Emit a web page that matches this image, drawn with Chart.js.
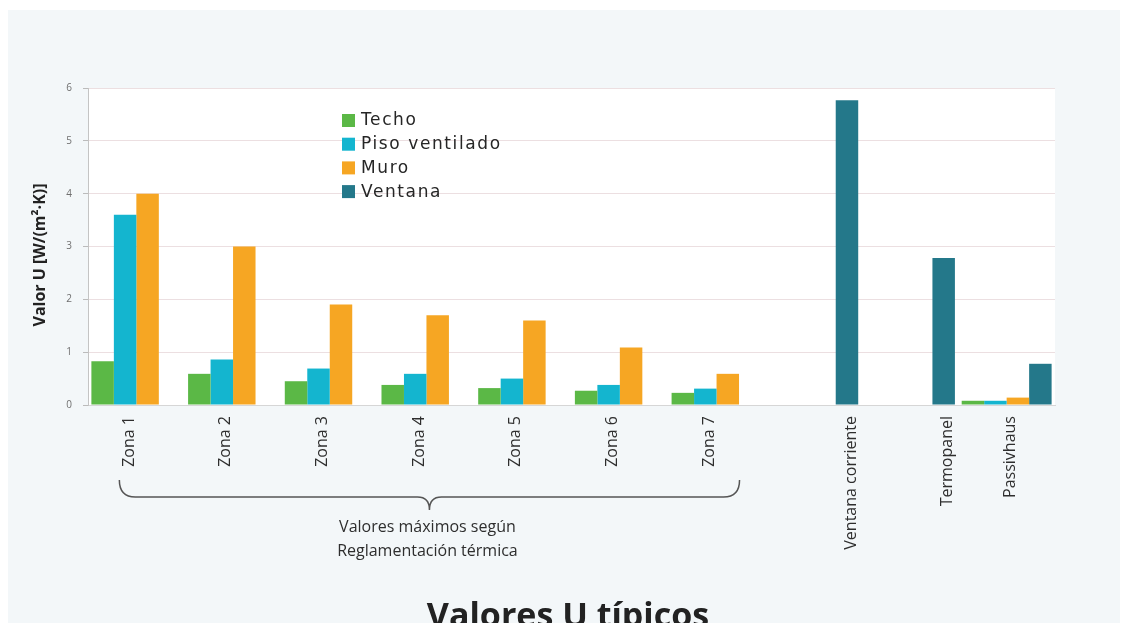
<!DOCTYPE html>
<html>
<head>
<title>Valores U típicos</title>
<script src="https://cdn.jsdelivr.net/npm/chart.js@4.4.0/dist/chart.umd.min.js"></script>
<style>
  body { margin: 0; background: #ffffff; }
  /* light panel behind the whole figure */
  #panel { position: absolute; left: 8px; top: 10px; width: 1112px; height: 613px; background: #f3f7f9; }
  #uChart { position: absolute; left: 0; top: 0; }
</style>
</head>
<body>
<div id="panel"></div>
<canvas id="uChart" width="1129" height="623"></canvas>
<script>
// data
var categories = ['Zona 1', 'Zona 2', 'Zona 3', 'Zona 4', 'Zona 5', 'Zona 6', 'Zona 7',
                  'Ventana corriente', 'Termopanel', 'Passivhaus'];
var techo         = [0.83, 0.59, 0.45, 0.38, 0.32, 0.27, 0.23, null, null, 0.08];
var pisoVentilado = [3.6, 0.86, 0.69, 0.59, 0.5, 0.38, 0.31, null, null, 0.08];
var muro          = [4.0, 3.0, 1.9, 1.7, 1.6, 1.09, 0.59, null, null, 0.14];
var ventana       = [null, null, null, null, null, null, null, 5.77, 2.78, 0.78];
var yTicks = [0, 1, 2, 3, 4, 5, 6];

var yTitle = 'Valor U [W/(m²·K)]';
var braceText = ['Valores máximos según', 'Reglamentación térmica'];
var chartTitle = 'Valores U típicos';

// extra drawing: white plot area, rotated category labels, brace, legend, titles
var refPlugin = {
  id: 'refPlugin',
  beforeDraw: function(chart) {
    var a = chart.chartArea, ctx = chart.ctx;
    ctx.save();
    ctx.fillStyle = '#ffffff';
    ctx.fillRect(a.left, a.top, a.right - a.left, a.bottom - a.top);
    ctx.restore();
  },
  afterDraw: function(chart) {
    var ctx = chart.ctx, x = chart.scales.x, a = chart.chartArea;
    ctx.save();

    // category labels, under the bars that are present
    ctx.font = '16px "Open Sans"';
    ctx.fillStyle = '#2e2e2e';
    ctx.textAlign = 'right';
    ctx.textBaseline = 'middle';
    categories.forEach(function(lab, i) {
      var xs = [];
      chart.data.datasets.forEach(function(ds, d) {
        if (ds.data[i] !== null) xs.push(chart.getDatasetMeta(d).data[i].x);
      });
      var cx = xs.reduce(function(s, v) { return s + v; }, 0) / xs.length + 4;
      ctx.save();
      ctx.translate(cx, a.bottom + 11);
      ctx.rotate(-Math.PI / 2);
      ctx.fillText(lab, 0, 0);
      ctx.restore();
    });

    // brace under the zones
    var L = x.getPixelForValue(0) - 17, R = x.getPixelForValue(6) + 23, M = (L + R) / 2;
    var y0 = 480, y1 = 497, y2 = 510;
    ctx.strokeStyle = '#555555';
    ctx.lineWidth = 1.5;
    ctx.beginPath();
    ctx.moveTo(L, y0);
    ctx.quadraticCurveTo(L, y1, L + 16, y1);
    ctx.lineTo(M - 12, y1);
    ctx.quadraticCurveTo(M, y1, M, y2);
    ctx.moveTo(R, y0);
    ctx.quadraticCurveTo(R, y1, R - 16, y1);
    ctx.lineTo(M + 12, y1);
    ctx.quadraticCurveTo(M, y1, M, y2);
    ctx.stroke();

    ctx.textAlign = 'center';
    ctx.fillText(braceText[0], M - 2, 527);
    ctx.fillText(braceText[1], M - 2, 551);

    // y axis title
    ctx.font = 'bold 16px "Open Sans"';
    ctx.fillStyle = '#222222';
    ctx.save();
    ctx.translate(40, 255);
    ctx.rotate(-Math.PI / 2);
    ctx.fillText(yTitle, 0, 0);
    ctx.restore();

    // bottom title (cut by the frame edge)
    ctx.font = 'bold 34px "Open Sans"';
    ctx.textBaseline = 'alphabetic';
    ctx.fillText(chartTitle, 568, 627);

    // legend inside the plot
    ctx.font = '17px "DejaVu Sans"';
    ctx.letterSpacing = '1.6px';
    ctx.textAlign = 'left';
    ctx.textBaseline = 'middle';
    chart.data.datasets.forEach(function(ds, d) {
      var ly = 120 + d * 23.7;
      ctx.fillStyle = ds.backgroundColor;
      ctx.fillRect(342, ly - 6, 13, 13);
      ctx.fillStyle = '#262626';
      ctx.fillText(ds.label, 361, ly + 1);
    });
    ctx.restore();
  }
};

var ctx = document.getElementById('uChart').getContext('2d');
var uChart = new Chart(ctx, {
  type: 'bar',
  data: {
    labels: categories,
    datasets: [
      { label: 'Techo', data: techo, backgroundColor: '#5bb846' },
      { label: 'Piso ventilado', data: pisoVentilado, backgroundColor: '#14b5cf' },
      { label: 'Muro', data: muro, backgroundColor: '#f6a623' },
      { label: 'Ventana', data: ventana, backgroundColor: '#24788a' }
    ]
  },
  options: {
    responsive: false,
    animation: false,
    layout: { padding: { left: 0, top: 88, right: 74, bottom: 218 } },
    datasets: { bar: { categoryPercentage: 0.93, barPercentage: 1.0 } },
    plugins: { legend: { display: false }, tooltip: { enabled: false } },
    scales: {
      x: {
        ticks: { display: false },
        grid: { display: false, drawTicks: false },
        border: { display: true, color: '#d6d6d6' },
        afterFit: function(scale) { scale.height = 0; }
      },
      y: {
        min: 0,
        max: 6,
        afterFit: function(scale) { scale.width = 88; },
        afterBuildTicks: function(scale) {
          scale.ticks = yTicks.map(function(v) { return { value: v }; });
        },
        ticks: { padding: 11, color: '#6f6f6f', font: { family: 'Open Sans', size: 10 } },
        grid: { color: '#ecdfe1', tickLength: 5, tickColor: '#bbbbbb' },
        border: { color: '#c4c4c4' }
      }
    }
  },
  plugins: [refPlugin]
});
</script>
</body>
</html>
